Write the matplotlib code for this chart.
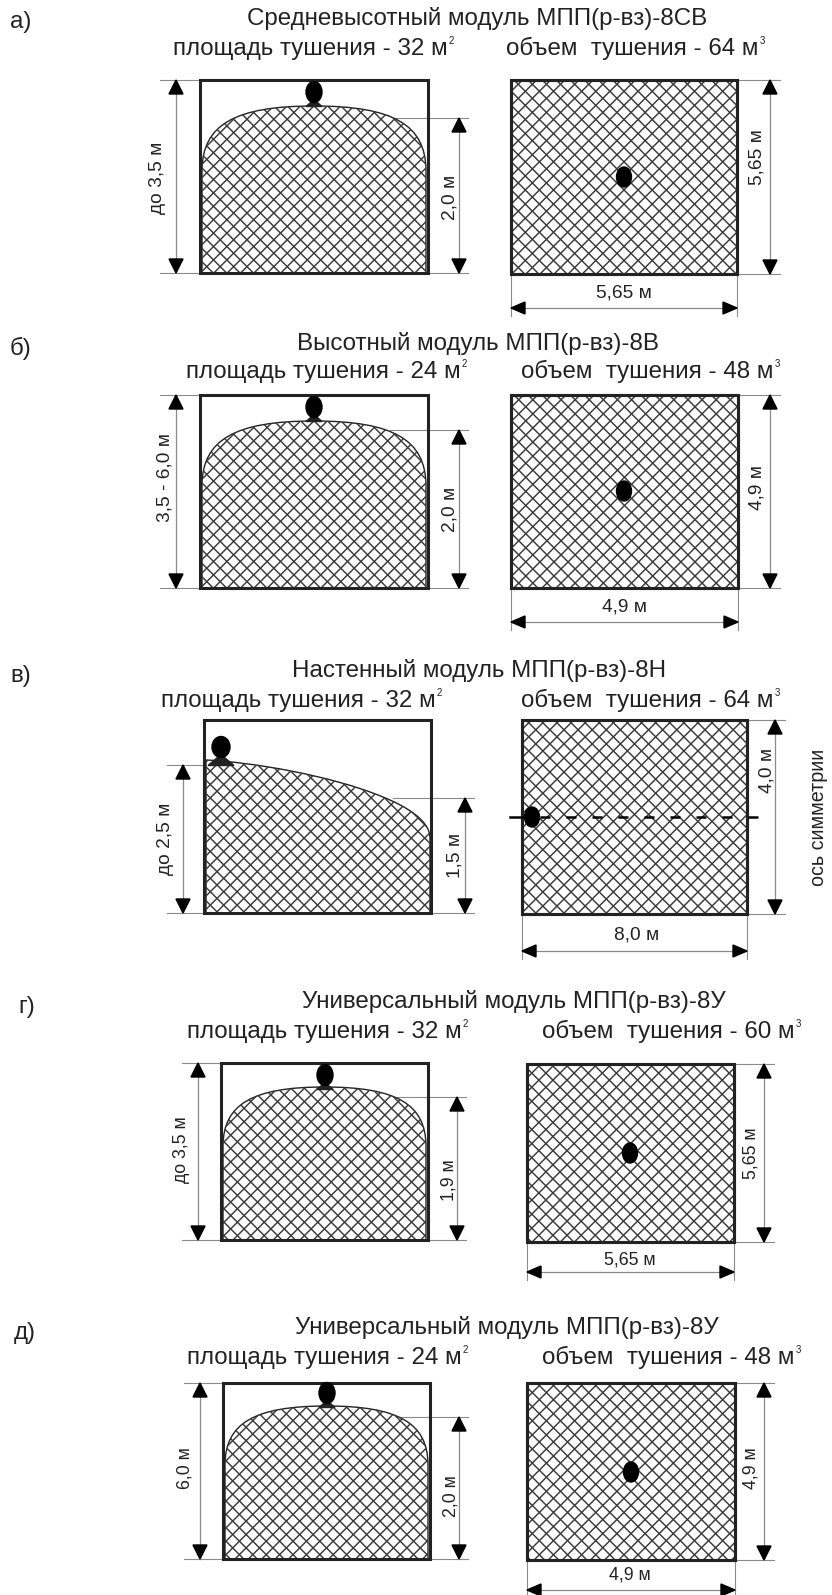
import matplotlib
matplotlib.use("Agg")
import matplotlib.pyplot as plt
import numpy as np
from matplotlib.collections import LineCollection
from matplotlib.patches import Ellipse, PathPatch, Rectangle
from matplotlib.path import Path

plt.rcParams['font.family'] = ['Liberation Sans', 'DejaVu Sans']

# texts of the five panels
letters = ['а)', 'б)', 'в)', 'г)', 'д)']
titles = [
    'Средневысотный модуль МПП(р-вз)-8СВ',
    'Высотный модуль МПП(р-вз)-8В',
    'Настенный модуль МПП(р-вз)-8Н',
    'Универсальный модуль МПП(р-вз)-8У',
    'Универсальный модуль МПП(р-вз)-8У',
]
areas = [32, 24, 32, 32, 24]
volumes = [64, 48, 64, 60, 48]
mount_heights = ['до 3,5 м', '3,5 - 6,0 м', 'до 2,5 м', 'до 3,5 м', '6,0 м']
spray_heights = ['2,0 м', '2,0 м', '1,5 м', '1,9 м', '2,0 м']
room_depths = ['5,65 м', '4,9 м', '4,0 м', '5,65 м', '4,9 м']
room_widths = ['5,65 м', '4,9 м', '8,0 м', '5,65 м', '4,9 м']

# layout in pixels of the reference, one line per panel
letter_xy = [(10, 22), (10, 348), (10, 676), (18, 1007), (14, 1333)]
title_xy = [(247, 25), (297, 350), (292, 677), (302, 1008), (295, 1334)]
area_xy = [(173, 55), (186, 378), (161, 707), (187, 1038), (187, 1364)]
volume_xy = [(506, 55), (521, 378), (521, 707), (542, 1038), (542, 1364)]
left_box = [(200, 428, 80, 273), (200, 428, 395, 588), (204, 431, 720, 913),
            (221, 428, 1063, 1240), (223, 430, 1383, 1559)]
right_box = [(511, 737, 80, 274), (511, 738, 395, 588), (522, 747, 720, 914),
             (527, 734, 1064, 1242), (527, 735, 1383, 1560)]
dome_top = [106, 421, 760, 1087, 1406]
spray_y = [118, 430, 798, 1097, 1417]
mount_x = [176, 176, 183, 198, 200]
mount_top = [80, 395, 765, 1063, 1383]
mount_label = [(157, 178), (165, 478), (165, 839), (181, 1150), (185, 1468)]
spray_x = [459, 459, 465, 457, 459]
spray_label = [(450, 197), (450, 509), (455, 855), (449, 1180), (451, 1496)]
depth_x = [770, 770, 775, 764, 764]
depth_label = [(757, 157), (757, 488), (767, 770), (751, 1153), (751, 1468)]
width_y = [308, 622, 951, 1272, 1590]
width_label = [(624, 293), (625, 607), (637, 935), (630, 1260), (630, 1575)]
head_left = [(314, 92), (314, 407), (221, 747), (325, 1075), (327, 1393)]
head_right = [(624, 177), (624, 491), (532, 817), (630, 1153), (631, 1472)]
label_size = [13.8, 13.8, 13.8, 12.8, 12.8]

GRAY = '#8a8a8a'
INK = '#222222'
FS = 17.4


def mesh(ax, patch, box, step):
    """Diagonal net clipped by the patch"""
    x0, x1, y0, y1 = box
    span = (x1 - x0) + (y1 - y0)
    segs = []
    for c in np.arange(-span, span, step):
        segs.append([(x0 + c, y0), (x0 + c + span, y0 + span)])
        segs.append([(x1 - c, y0), (x1 - c - span, y0 + span)])
    net = LineCollection(segs, colors='#3a3a3a', linewidths=1.05, zorder=2)
    ax.add_collection(net)
    net.set_clip_path(patch)


def v_dim(ax, x, y0, y1, arrow=14):
    ax.plot([x, x], [y0, y1], color=GRAY, lw=0.9, zorder=3)
    ax.fill([x - 7, x + 7, x], [y0 + arrow, y0 + arrow, y0], color='k', zorder=4)
    ax.fill([x - 7, x + 7, x], [y1 - arrow, y1 - arrow, y1], color='k', zorder=4)


def h_dim(ax, y, x0, x1, arrow=14):
    ax.plot([x0, x1], [y, y], color=GRAY, lw=0.9, zorder=3)
    ax.fill([x0 + arrow, x0 + arrow, x0], [y - 6, y + 6, y], color='k', zorder=4)
    ax.fill([x1 - arrow, x1 - arrow, x1], [y - 6, y + 6, y], color='k', zorder=4)


def ext(ax, xs, ys):
    ax.plot(xs, ys, color=GRAY, lw=0.8, zorder=1)


def dome_path(box, top):
    x0, x1, y0, y1 = box
    mid = (x0 + x1) / 2
    w = x1 - x0
    drop = 0.33 * (y1 - y0)
    return Path(
        [(x0 + 2, y1), (x0 + 2, top + drop),
         (x0 + 0.012 * w, top + 0.3 * drop), (x0 + 0.15 * w, top), (mid, top),
         (x1 - 0.15 * w, top), (x1 - 0.012 * w, top + 0.3 * drop), (x1 - 2, top + drop),
         (x1 - 2, y1), (x0 + 2, y1)],
        [Path.MOVETO, Path.LINETO, Path.CURVE4, Path.CURVE4, Path.CURVE4,
         Path.CURVE4, Path.CURVE4, Path.CURVE4, Path.LINETO, Path.CLOSEPOLY])


def wall_path(box, top):
    x0, x1, y0, y1 = box
    return Path(
        [(x0 + 2, y1), (x0 + 2, top),
         (x0 + 46, top + 2), (x0 + 126, top + 15), (x0 + 179, top + 37),
         (x0 + 201, top + 46), (x1 - 1, top + 60), (x1 - 1, top + 78),
         (x1 - 1, y1), (x0 + 2, y1)],
        [Path.MOVETO, Path.LINETO, Path.CURVE4, Path.CURVE4, Path.CURVE4,
         Path.CURVE4, Path.CURVE4, Path.CURVE4, Path.LINETO, Path.CLOSEPOLY])


def head(ax, xy, w=16, h=21, base_w=0, base_h=5):
    ax.add_patch(Ellipse(xy, w, h, color='k', zorder=6))
    if base_w:
        x, y = xy
        ax.fill([x - base_w, x + base_w, x],
                [y + h / 2 + base_h, y + h / 2 + base_h, y + h / 2 - 3],
                color='#222222', zorder=5)


def power_label(ax, renderer, xy, text, power):
    """Label with the small raised exponent after it"""
    t = ax.text(xy[0], xy[1], text, fontsize=FS, ha='left', va='baseline', color=INK)
    end = t.get_window_extent(renderer).x1
    ax.text(end + 1, xy[1] - 14, power, fontsize=7, ha='left', va='center', color=INK)


def main():
    fig = plt.figure(figsize=(8.32, 15.95), dpi=100)
    ax = fig.add_axes([0, 0, 1, 1])
    ax.set_xlim(0, 832)
    ax.set_ylim(1595, 0)
    ax.axis('off')
    renderer = fig.canvas.get_renderer()

    for i in range(5):
        ax.text(*letter_xy[i], letters[i], fontsize=FS, va='center', color=INK)
        ax.text(*title_xy[i], titles[i], fontsize=FS, va='baseline', color=INK)
        power_label(ax, renderer, area_xy[i], f'площадь тушения - {areas[i]} м', '2')
        power_label(ax, renderer, volume_xy[i], f'объем  тушения - {volumes[i]} м', '3')

        fs = label_size[i]
        box = left_box[i]
        x0, x1, y0, y1 = box
        path = wall_path(box, dome_top[i]) if i == 2 else dome_path(box, dome_top[i])
        shape = PathPatch(path, facecolor='white', edgecolor=INK, lw=1.0, zorder=2)
        ax.add_patch(shape)
        mesh(ax, shape, box, 13.4)
        ax.add_patch(Rectangle((x0, y0), x1 - x0, y1 - y0, fill=False,
                               edgecolor=INK, lw=2.2, zorder=5))
        if i == 2:
            head(ax, head_left[i], w=18, h=21, base_w=13, base_h=8)
        else:
            head(ax, head_left[i], base_w=8, base_h=4)

        # dimensions of the left scheme
        mx = mount_x[i]
        ext(ax, [mx - 16, x0], [mount_top[i], mount_top[i]])
        ext(ax, [mx - 16, x0], [y1, y1])
        v_dim(ax, mx, mount_top[i], y1)
        ax.text(*mount_label[i], mount_heights[i], fontsize=fs, rotation=90,
                ha='center', va='center', color=INK)
        sx = spray_x[i]
        ext(ax, [x1 - 38, sx + 9], [spray_y[i], spray_y[i]])
        ext(ax, [x1, sx + 9], [y1, y1])
        v_dim(ax, sx, spray_y[i], y1)
        ax.text(*spray_label[i], spray_heights[i], fontsize=fs, rotation=90,
                ha='center', va='center', color=INK)

        # right scheme
        box = right_box[i]
        x0, x1, y0, y1 = box
        shape = Rectangle((x0, y0), x1 - x0, y1 - y0, facecolor='white',
                          edgecolor=INK, lw=2.2, zorder=2)
        ax.add_patch(shape)
        mesh(ax, shape, box, 14.1)
        ax.add_patch(Rectangle((x0, y0), x1 - x0, y1 - y0, fill=False,
                               edgecolor=INK, lw=2.2, zorder=5))
        head(ax, head_right[i], w=15, h=20)

        dx = depth_x[i]
        ext(ax, [x1, dx + 10], [y0, y0])
        ext(ax, [x1, dx + 10], [y1, y1])
        v_dim(ax, dx, y0, y1)
        ax.text(*depth_label[i], room_depths[i], fontsize=fs, rotation=90,
                ha='center', va='center', color=INK)
        wy = width_y[i]
        ext(ax, [x0, x0], [y1, wy + 8])
        ext(ax, [x1, x1], [y1, wy + 8])
        h_dim(ax, wy, x0, x1)
        ax.text(*width_label[i], room_widths[i], fontsize=fs, ha='center',
                va='center', color=INK)

    # symmetry axis on panel в
    ax.plot([510, 524], [817, 817], color='k', lw=1.8, zorder=6)
    ax.plot([540, 759], [817, 817], color='k', lw=1.8, zorder=6,
            linestyle=(0, (4, 6.4)))
    ax.text(818, 817, 'ось симметрии', fontsize=14.2, rotation=90, ha='center',
            va='center', color=INK)

    fig.savefig('out.png', dpi=100)


if __name__ == "__main__":
    main()
